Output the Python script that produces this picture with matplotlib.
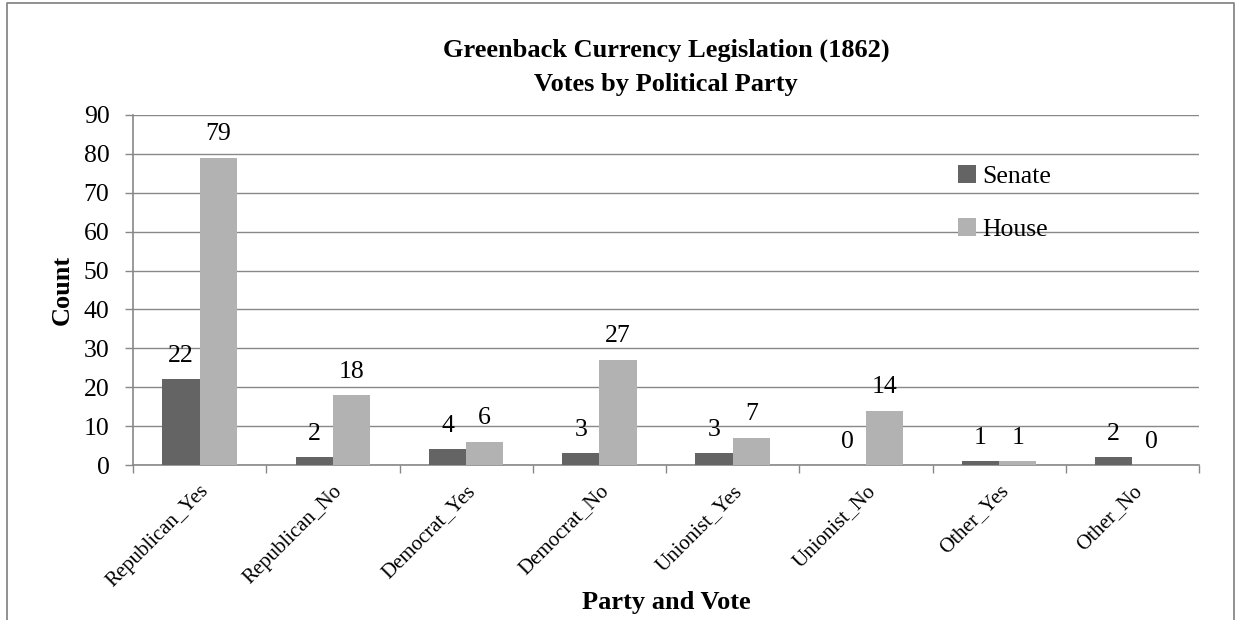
import matplotlib
matplotlib.use("Agg")
import matplotlib.pyplot as plt
import numpy as np

categories = ["Republican_Yes", "Republican_No", "Democrat_Yes", "Democrat_No",
              "Unionist_Yes", "Unionist_No", "Other_Yes", "Other_No"]
senate = [22, 2, 4, 3, 3, 0, 1, 2]
house = [79, 18, 6, 27, 7, 14, 1, 0]
y_ticks = [0, 10, 20, 30, 40, 50, 60, 70, 80, 90]

plt.rcParams["font.family"] = ["Liberation Serif", "DejaVu Serif"]

W, H = 1244, 620
fig = plt.figure(figsize=(W / 100, H / 100), dpi=100)

# outer chart frame (open at the bottom)
fig.add_artist(plt.Line2D([7 / W, 7 / W, 1234 / W, 1234 / W],
                          [0, 1 - 3 / H, 1 - 3 / H, 0],
                          transform=fig.transFigure, color="#888888", lw=1.3))

ax = fig.add_axes([133 / W, 1 - 465 / H, (1199 - 133) / W, (465 - 115) / H])

grid_col = "#888888"
senate_col = "#646464"
house_col = "#b2b2b2"

x = np.arange(len(categories))
bw = 0.28
b1 = ax.bar(x - bw / 2, senate, bw, color=senate_col, label="Senate", zorder=3)
b2 = ax.bar(x + bw / 2, house, bw, color=house_col, label="House", zorder=3)

for bars, vals in ((b1, senate), (b2, house)):
    for rect, v in zip(bars, vals):
        ax.annotate(str(v), (rect.get_x() + rect.get_width() / 2, v),
                    xytext=(0, 9), textcoords="offset points",
                    ha="center", va="bottom", fontsize=18.5, zorder=4)

ax.set_xlim(-0.5, len(categories) - 0.5)
ax.set_ylim(0, 90)
ax.set_yticks(y_ticks)
ax.tick_params(axis="y", labelsize=18.5, length=6, width=1, color=grid_col, pad=11)
ax.yaxis.grid(True, color=grid_col, lw=1, zorder=0)
ax.set_axisbelow(True)

# category boundary ticks on the x axis
ax.set_xticks(np.arange(-0.5, len(categories) + 0.5, 1), minor=False)
ax.set_xticklabels([])
ax.tick_params(axis="x", which="major", length=6, width=1, color=grid_col)
ax.set_xticks(x, minor=True)
ax.set_xticklabels(categories, minor=True, rotation=45, ha="right",
                   rotation_mode="anchor", fontsize=15)
ax.tick_params(axis="x", which="minor", length=0, pad=12)

for s in ("top", "right"):
    ax.spines[s].set_visible(False)
for s in ("left", "bottom"):
    ax.spines[s].set_color(grid_col)
    ax.spines[s].set_linewidth(1.2)

ax.set_ylabel("Count", fontsize=19, fontweight="bold", labelpad=7)
cx = (133 + 1199) / 2 / W
fig.text(cx, 1 - 602 / H, "Party and Vote", ha="center",
         va="center", fontsize=19, fontweight="bold")
fig.text(cx, 1 - 50 / H, "Greenback Currency Legislation (1862)",
         ha="center", va="center", fontsize=19, fontweight="bold")
fig.text(cx, 1 - 85 / H, "Votes by Political Party",
         ha="center", va="center", fontsize=19, fontweight="bold")

leg = ax.legend(loc="upper left", frameon=False, fontsize=18.5,
                handlelength=0.7, handleheight=0.7, handletextpad=0.25,
                labelspacing=1.15, borderaxespad=0, borderpad=0)
leg.set_bbox_to_anchor((958 / W, 1 - 165 / H), transform=fig.transFigure)

fig.savefig("out.png", dpi=100)
